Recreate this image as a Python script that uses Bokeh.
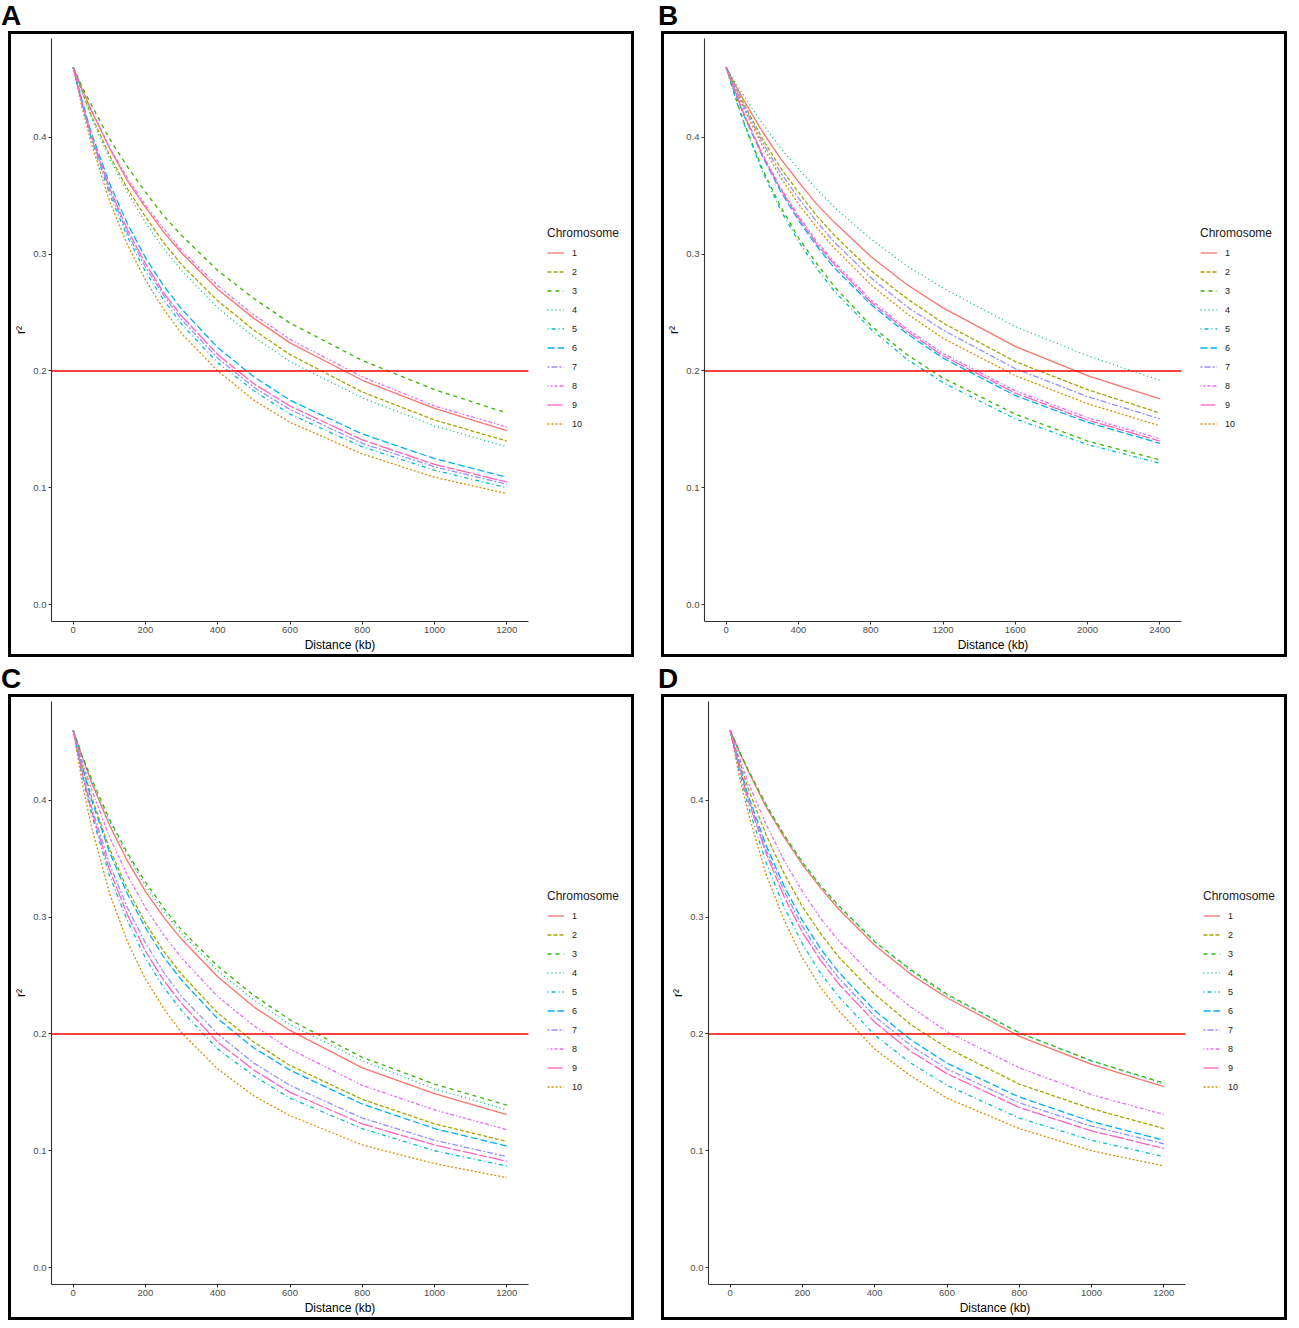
from bokeh.plotting import figure
from bokeh.models import (Range1d, Legend, LegendItem, FixedTicker,
                          PrintfTickFormatter, Div)
from bokeh.layouts import row, column
from bokeh.embed import file_html
from bokeh.resources import INLINE

# ---------------- data ----------------
CHROMOSOMES = ["1", "2", "3", "4", "5", "6", "7", "8", "9", "10"]
PANELS = ["A", "B", "C", "D"]
THRESHOLD = 0.2

DIST_1200 = [0, 25, 50, 100, 150, 200, 250, 300, 400, 500, 600, 800, 1000, 1200]
DIST_2400 = [0, 50, 100, 200, 300, 400, 500, 600, 800, 1000, 1200, 1600, 2000, 2400]

XTICKS_1200 = [0, 200, 400, 600, 800, 1000, 1200]
XTICKS_2400 = [0, 400, 800, 1200, 1600, 2000, 2400]
YTICKS = [0.0, 0.1, 0.2, 0.3, 0.4]

# r^2 values per chromosome (rows = chromosome 1..10), panel A
R2_A = [
    [.460, .441, .423, .391, .363, .340, .319, .301, .270, .245, .224, .192, .168, .149],
    [.460, .439, .419, .385, .356, .332, .310, .291, .260, .235, .214, .182, .158, .140],
    [.460, .443, .428, .399, .375, .353, .333, .316, .286, .262, .241, .209, .184, .164],
    [.460, .438, .417, .382, .353, .327, .305, .286, .254, .229, .208, .177, .153, .135],
    [.460, .427, .399, .352, .315, .285, .261, .240, .207, .183, .163, .135, .115, .100],
    [.460, .431, .404, .361, .326, .297, .273, .253, .220, .195, .175, .146, .125, .109],
    [.460, .428, .400, .355, .318, .289, .265, .244, .211, .186, .167, .138, .118, .103],
    [.460, .441, .424, .392, .365, .342, .322, .303, .273, .248, .227, .195, .170, .152],
    [.460, .429, .402, .357, .321, .292, .267, .247, .214, .189, .170, .141, .120, .105],
    [.460, .425, .395, .346, .308, .278, .253, .232, .200, .175, .156, .129, .109, .095],
]
# panel B (distance up to 2400 kb)
R2_B = [
    [.460, .445, .431, .405, .382, .362, .343, .327, .298, .274, .254, .221, .196, .176],
    [.460, .443, .428, .399, .374, .353, .333, .316, .286, .262, .241, .208, .184, .164],
    [.460, .435, .412, .373, .341, .314, .292, .272, .239, .214, .194, .163, .140, .124],
    [.460, .447, .435, .412, .391, .373, .356, .340, .313, .290, .271, .238, .213, .192],
    [.460, .434, .411, .371, .338, .311, .288, .268, .236, .210, .190, .159, .137, .121],
    [.460, .438, .418, .384, .354, .329, .307, .288, .257, .232, .211, .179, .156, .138],
    [.460, .442, .426, .396, .370, .348, .328, .310, .280, .255, .235, .202, .178, .159],
    [.460, .439, .420, .386, .357, .333, .311, .293, .261, .236, .215, .183, .160, .142],
    [.460, .439, .419, .385, .356, .331, .309, .291, .259, .234, .213, .181, .158, .140],
    [.460, .441, .424, .393, .366, .343, .323, .305, .274, .249, .228, .196, .172, .153],
]
# panel C
R2_C = [
    [.460, .437, .416, .379, .348, .322, .300, .281, .249, .223, .203, .171, .149, .131],
    [.460, .430, .404, .359, .324, .295, .271, .251, .218, .193, .173, .144, .123, .108],
    [.460, .438, .419, .384, .355, .330, .308, .289, .258, .233, .212, .180, .157, .139],
    [.460, .438, .417, .382, .353, .327, .305, .286, .254, .229, .208, .177, .153, .135],
    [.460, .421, .389, .336, .297, .265, .240, .220, .187, .164, .145, .119, .100, .087],
    [.460, .429, .401, .356, .320, .291, .266, .246, .213, .188, .169, .140, .119, .104],
    [.460, .425, .395, .346, .308, .278, .253, .232, .200, .175, .156, .128, .109, .095],
    [.460, .433, .410, .369, .336, .308, .285, .265, .232, .207, .187, .156, .135, .118],
    [.460, .423, .392, .341, .302, .271, .246, .226, .193, .169, .150, .123, .105, .091],
    [.460, .415, .378, .321, .279, .247, .222, .201, .170, .147, .130, .105, .089, .077],
]
# panel D
R2_D = [
    [.460, .442, .425, .394, .368, .345, .325, .307, .276, .251, .231, .198, .174, .155],
    [.460, .434, .410, .370, .337, .309, .286, .266, .234, .208, .188, .157, .136, .119],
    [.460, .442, .426, .396, .370, .347, .327, .310, .279, .255, .234, .201, .177, .158],
    [.460, .442, .426, .396, .370, .347, .327, .309, .279, .254, .233, .201, .177, .157],
    [.460, .425, .395, .346, .308, .277, .252, .232, .199, .175, .156, .128, .109, .095],
    [.460, .431, .404, .361, .326, .297, .273, .253, .220, .195, .175, .146, .125, .109],
    [.460, .429, .402, .357, .322, .292, .268, .248, .215, .190, .170, .141, .121, .106],
    [.460, .437, .415, .379, .348, .322, .299, .280, .248, .223, .202, .171, .148, .131],
    [.460, .428, .400, .354, .317, .287, .263, .243, .210, .185, .166, .137, .117, .102],
    [.460, .421, .389, .336, .297, .265, .240, .220, .187, .164, .145, .119, .100, .087],
]

# ---------------- styles / geometry ----------------
COLORS = ["#F8766D", "#A3A500", "#39B600", "#00BF7D", "#00BFC4",
          "#00B0F6", "#9590FF", "#E76BF3", "#FF62BC", "#D89000"]
DASHES = ["solid", "4 2", "4 4", "1 3", "1 3 4 3",
          "7 3", "2 2 6 2", "1 2 2 2 3 2 4 2", "15 2 8 2", "2 2"]
DRAW_ORDER = [0, 9, 1, 2, 3, 4, 5, 6, 7, 8]  # ggplot level order "1","10","2",...
FONT = "Liberation Sans"

FIG_W, FIG_H = 620, 620          # canvas inside the 3px box outline
MB_RIGHT, MB_TOP, MB_BOTTOM = 3, 4, 32
DATA_W = 477                     # pixel width of the plotted axis span


def make_panel(dist, series, xmax, xticks, mb_left, legend_x):
    frame_w = FIG_W - mb_left - MB_RIGHT
    xlo, xhi = -0.05 * xmax, 1.05 * xmax
    xend = xlo + (xhi - xlo) * frame_w / DATA_W
    p = figure(width=FIG_W, height=FIG_H,
               x_range=Range1d(xlo, xend),
               y_range=Range1d(-0.0145, 0.4846),
               output_backend="svg", toolbar_location=None,
               min_border_left=mb_left, min_border_right=MB_RIGHT,
               min_border_top=MB_TOP, min_border_bottom=MB_BOTTOM)
    p.styles = {"outline": "3px solid black"}
    p.outline_line_color = None
    p.xgrid.visible = False
    p.ygrid.visible = False
    p.background_fill_color = "white"
    p.border_fill_color = "white"

    renderers = {}
    for i in DRAW_ORDER:
        renderers[i] = p.line(dist, series[i], line_color=COLORS[i],
                              line_dash=DASHES[i], line_width=1.3)

    # threshold line across the axis span
    p.line([xlo, xhi], [THRESHOLD, THRESHOLD], line_color="#FF0000", line_width=1.6)

    for ax in (p.xaxis[0], p.yaxis[0]):
        ax.axis_line_color = "#333333"
        ax.axis_line_width = 1.1
        ax.major_tick_line_color = "#333333"
        ax.major_tick_out = 3
        ax.major_tick_in = 0
        ax.minor_tick_line_color = None
        ax.major_label_text_font_size = "9.5px"
        ax.major_label_text_color = "#4D4D4D"
        ax.major_label_text_font = FONT
        ax.major_label_standoff = 2
        ax.axis_label_text_font_size = "12px"
        ax.axis_label_text_font_style = "normal"
        ax.axis_label_text_font = FONT
        ax.axis_label_text_color = "black"

    p.xaxis[0].ticker = FixedTicker(ticks=xticks)
    p.xaxis[0].bounds = (xlo, xhi)
    p.xaxis[0].axis_label = "Distance (kb)"
    p.xaxis[0].axis_label_standoff = 2
    p.yaxis[0].ticker = FixedTicker(ticks=YTICKS)
    p.yaxis[0].formatter = PrintfTickFormatter(format="%.1f")
    p.yaxis[0].axis_label = "r²"
    p.yaxis[0].axis_label_standoff = 2

    items = [LegendItem(label=CHROMOSOMES[i], renderers=[renderers[i]])
             for i in range(len(CHROMOSOMES))]
    legend = Legend(items=items, title="Chromosome", location=(legend_x, 189),
                    padding=10, border_line_color=None,
                    background_fill_alpha=0,
                    label_text_font_size="9px", label_text_font=FONT,
                    label_text_color="#1A1A1A",
                    title_text_font_size="12px", title_text_font=FONT,
                    title_text_font_style="normal", title_text_color="#1A1A1A",
                    glyph_width=17, glyph_height=17, label_height=17,
                    spacing=2, label_standoff=8, title_standoff=4)
    p.add_layout(legend, "center")
    return p


def make_label(letter, shift):
    html = ('<span style="position:relative; left:%dpx">%s</span>' % (shift, letter))
    return Div(text=html, width=FIG_W, height=34, margin=0,
               styles={"font-family": FONT, "font-size": "28px",
                       "font-weight": "bold", "line-height": "31px",
                       "color": "black"})


pA = make_panel(DIST_1200, R2_A, 1200, XTICKS_1200, 40, 496)
pB = make_panel(DIST_2400, R2_B, 2400, XTICKS_2400, 40, 496)
pC = make_panel(DIST_1200, R2_C, 1200, XTICKS_1200, 40, 496)
pD = make_panel(DIST_1200, R2_D, 1200, XTICKS_1200, 44, 495)

colA = column(make_label(PANELS[0], -10), pA, spacing=0)
colB = column(make_label(PANELS[1], -6), pB, spacing=0)
colC = column(make_label(PANELS[2], -10), pC, spacing=0)
colD = column(make_label(PANELS[3], -6), pD, spacing=0)

layout = column(row(colA, colB, spacing=33), row(colC, colD, spacing=33),
                spacing=9, margin=(0, 0, 0, 11))

open("out.html", "w").write(file_html(layout, INLINE))
